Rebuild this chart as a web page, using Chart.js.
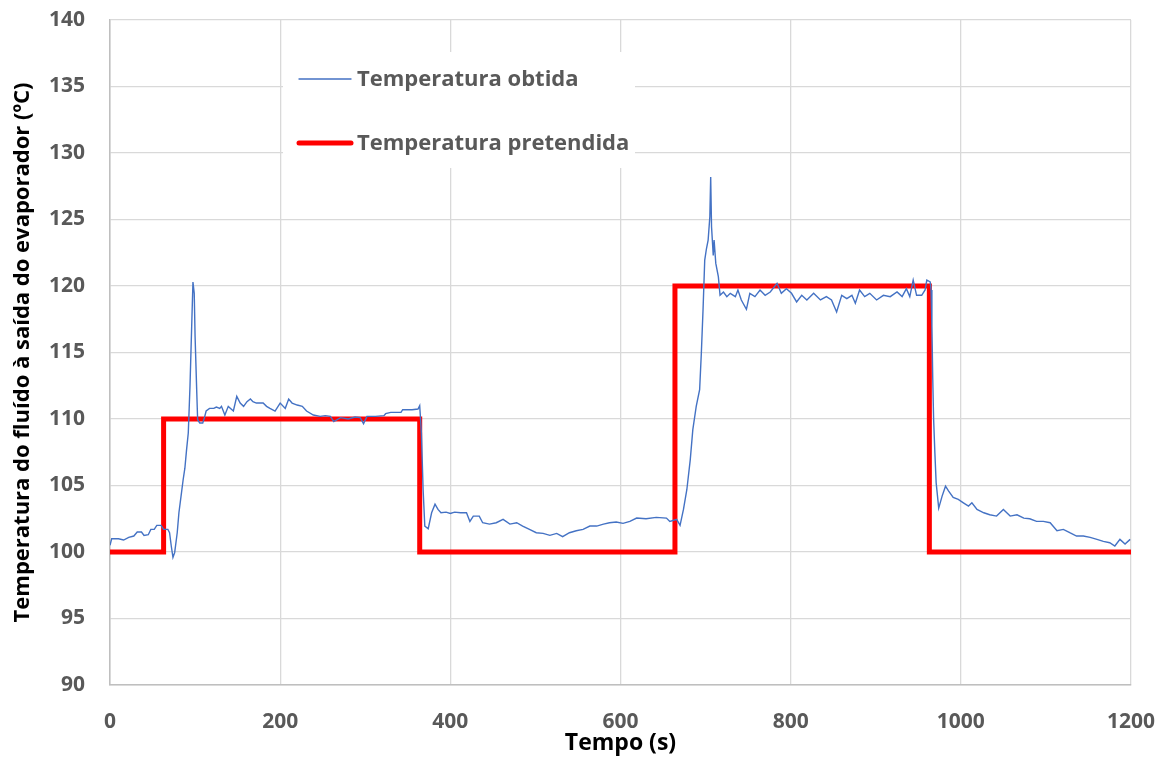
<!DOCTYPE html>
<html>
<head>
<meta charset="utf-8">
<script src="https://cdn.jsdelivr.net/npm/chart.js@4/dist/chart.umd.min.js"></script>
<style>
  html, body { margin: 0; padding: 0; background: #fff; }
  #wrap { width: 1166px; height: 761px; }
</style>
</head>
<body>
<div id="wrap"><canvas id="chart"></canvas></div>
<script>
// tempo (s) e temperatura medida à saída do evaporador
const tempoObtida = [
  0, 2, 10, 16, 22, 28, 32, 37, 40, 45, 48, 52, 55, 60, 63, 68, 70, 72, 74, 76,
  79, 81, 84, 86, 88, 90, 92, 94, 96, 97.5, 99, 100, 102, 103, 105.5, 109, 111, 113, 117, 122,
  125, 129, 131, 135, 139, 145, 149, 153, 157, 161, 165, 168, 172, 180, 184, 188, 194, 200, 206, 210,
  214, 220, 226, 231, 239, 247, 253, 259, 263, 271, 280, 288, 294, 298, 302, 312, 322, 324, 330, 342,
  344, 355, 362, 364, 366, 368, 370, 374, 378, 382, 385.5, 389, 395, 400, 405, 412, 419, 423, 427, 434,
  438, 446, 454, 462, 470, 478, 485, 493, 501, 509, 517, 525, 532, 540, 548, 556, 564, 572, 580, 587,
  595, 603, 611, 619, 630, 642, 654, 658, 666, 670, 674, 678, 682, 685, 689, 693, 695, 697, 699, 701,
  703, 705, 706, 707, 709, 710, 712, 715, 717, 721, 725, 729, 735, 738, 742, 748, 752, 758, 764, 770,
  776, 784, 789, 795, 801, 807, 813, 819, 827, 835, 842, 848, 854, 860, 866, 872, 876, 881, 887, 893,
  901, 909, 917, 925, 931, 936, 940, 944, 948, 954, 958, 960, 964, 965, 966, 967, 968, 969.5, 971, 974,
  978, 982, 985.5, 991, 997, 1003, 1009, 1013, 1019, 1027, 1034, 1042, 1050, 1058, 1066, 1074, 1081, 1089, 1097, 1105,
  1113, 1120.5, 1128, 1136, 1144, 1152, 1160, 1167.5, 1175, 1181, 1187, 1193, 1199
];
const tempObtida = [
  100.5, 101.0, 101.0, 100.9, 101.1, 101.2, 101.5, 101.5, 101.25, 101.3, 101.7, 101.7, 102.0, 102.0, 101.7, 101.7, 101.45, 100.45, 99.6, 99.95,
  101.45, 102.95, 104.45, 105.45, 106.3, 107.7, 108.95, 112.45, 116.95, 120.3, 119.45, 116.2, 111.95, 109.95, 109.7, 109.7, 110.1, 110.6, 110.8, 110.8,
  110.9, 110.8, 110.95, 110.3, 110.95, 110.6, 111.7, 111.2, 110.95, 111.3, 111.5, 111.3, 111.2, 111.2, 110.95, 110.8, 110.6, 111.2, 110.8, 111.5,
  111.2, 111.05, 110.95, 110.6, 110.3, 110.2, 110.25, 110.2, 109.8, 110.1, 110.0, 110.15, 110.1, 109.65, 110.2, 110.2, 110.25, 110.4, 110.5, 110.5,
  110.7, 110.7, 110.75, 111.0, 108.95, 104.7, 101.95, 101.75, 102.95, 103.6, 103.2, 102.95, 103.0, 102.9, 103.0, 102.95, 102.95, 102.3, 102.7, 102.7,
  102.2, 102.1, 102.2, 102.45, 102.1, 102.2, 101.95, 101.7, 101.45, 101.4, 101.25, 101.4, 101.15, 101.45, 101.6, 101.7, 101.95, 101.95, 102.1, 102.2,
  102.25, 102.15, 102.3, 102.55, 102.5, 102.6, 102.55, 102.3, 102.45, 102.0, 103.2, 104.7, 106.95, 109.2, 110.95, 112.2, 114.95, 118.2, 121.95, 122.8,
  123.45, 125.2, 128.2, 124.45, 122.3, 123.45, 121.7, 120.7, 119.3, 119.55, 119.2, 119.45, 119.2, 119.7, 118.95, 118.25, 119.45, 119.2, 119.7, 119.3,
  119.55, 120.2, 119.45, 119.8, 119.45, 118.8, 119.3, 118.95, 119.45, 118.95, 119.2, 118.95, 118.05, 119.3, 119.05, 119.3, 118.7, 119.7, 119.2, 119.45,
  118.95, 119.3, 119.2, 119.55, 119.2, 119.8, 119.2, 120.45, 119.3, 119.3, 119.7, 120.45, 120.3, 119.7, 117.0, 113.0, 110.0, 107.45, 105.2, 103.3,
  104.2, 104.95, 104.6, 104.1, 103.95, 103.7, 103.45, 103.7, 103.2, 102.95, 102.8, 102.7, 103.2, 102.7, 102.8, 102.55, 102.5, 102.3, 102.3, 102.2,
  101.6, 101.7, 101.45, 101.2, 101.2, 101.1, 100.95, 100.8, 100.7, 100.45, 100.95, 100.6, 100.95
];

// temperatura de referência (degraus)
const tempoPretendida = [0, 63, 63, 364, 364, 664, 664, 963, 963, 1200];
const tempPretendida  = [100, 100, 110, 110, 100, 100, 120, 120, 100, 100];

const xTicks = [0, 200, 400, 600, 800, 1000, 1200];
const yTicks = [90, 95, 100, 105, 110, 115, 120, 125, 130, 135, 140];

const pontos = (xs, ys) => xs.map((x, i) => ({ x: x, y: ys[i] }));

const tickFont = { family: 'Open Sans', size: 21, weight: 'bold' };

// legenda desenhada dentro da área do gráfico, com fundo branco
const legendaInterna = {
  id: 'legendaInterna',
  afterDraw(chart) {
    const c = chart.ctx;
    const a = chart.chartArea;
    const left = a.left + 173, top = a.top + 32;
    c.save();
    c.fillStyle = '#ffffff';
    c.fillRect(left, top, 352, 116);
    c.font = 'bold 22px "Open Sans"';
    c.textBaseline = 'middle';
    chart.data.datasets.forEach((ds, i) => {
      const y = top + 27 + i * 64;
      c.strokeStyle = ds.borderColor;
      c.lineWidth = ds.borderWidth;
      c.lineCap = 'round';
      c.beginPath();
      c.moveTo(left + 16, y);
      c.lineTo(left + 68, y);
      c.stroke();
      c.fillStyle = '#595959';
      c.fillText(ds.label, left + 74, y + 1);
    });
    c.restore();
  }
};

const ctx = document.querySelector('#chart').getContext('2d');
new Chart(ctx, {
  type: 'line',
  data: {
    datasets: [
      {
        label: 'Temperatura obtida',
        data: pontos(tempoObtida, tempObtida),
        borderColor: '#4472C4',
        borderWidth: 1.4,
        pointRadius: 0,
        tension: 0
      },
      {
        label: 'Temperatura pretendida',
        data: pontos(tempoPretendida, tempPretendida),
        borderColor: '#FF0000',
        borderWidth: 5,
        pointRadius: 0,
        tension: 0
      }
    ]
  },
  options: {
    responsive: true,
    maintainAspectRatio: false,
    animation: false,
    layout: { padding: { left: 10, right: 35, top: 20, bottom: 4 } },
    scales: {
      x: {
        type: 'linear',
        min: 0,
        max: 1200,
        afterBuildTicks: s => { s.ticks = xTicks.map(v => ({ value: v })); },
        afterFit: s => { s.height = 72; s.paddingLeft = 0; s.paddingRight = 0; },
        grid: { color: '#d9d9d9', lineWidth: 1.3, drawTicks: false },
        border: { color: '#bfbfbf', width: 1.5 },
        ticks: { font: tickFont, color: '#595959', padding: 24, maxRotation: 0, callback: v => String(v) },
        title: { display: true, text: 'Tempo (s)', font: { family: 'Open Sans', size: 23, weight: 'bold' }, color: '#000', padding: { top: 0, bottom: 0 } }
      },
      y: {
        min: 90,
        max: 140,
        afterBuildTicks: s => { s.ticks = yTicks.map(v => ({ value: v })); },
        afterFit: s => { s.width = 100; s.paddingTop = 0; s.paddingBottom = 0; },
        grid: { color: '#d9d9d9', lineWidth: 1.3, drawTicks: false },
        border: { color: '#bfbfbf', width: 1.5 },
        ticks: { font: tickFont, color: '#595959', padding: 25 },
        title: { display: true, text: 'Temperatura do fluído à saída do evaporador (ºC)', font: { family: 'Open Sans', size: 22, weight: 'bold' }, color: '#000', padding: 0 }
      }
    },
    plugins: {
      legend: { display: false },
      tooltip: { enabled: false }
    }
  },
  plugins: [legendaInterna]
});
</script>
</body>
</html>
